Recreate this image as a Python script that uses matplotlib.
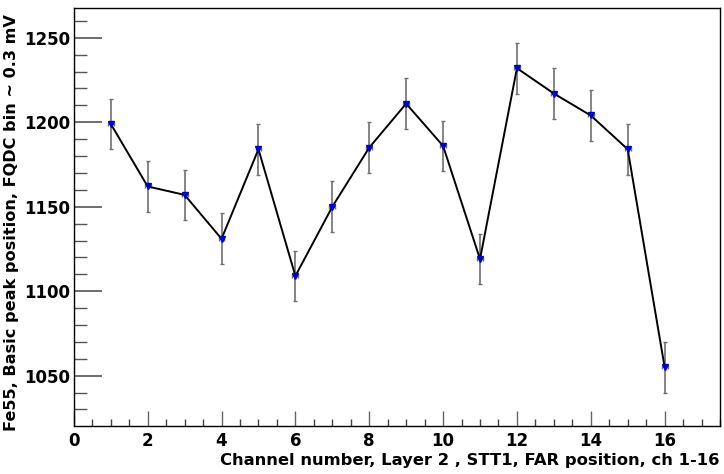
import numpy as np
import matplotlib.pyplot as plt
from matplotlib.ticker import MultipleLocator

# channel numbers and peak positions
channels = [1, 2, 3, 4, 5, 6, 7, 8, 9, 10, 11, 12, 13, 14, 15, 16]
peak_pos = [1199, 1162, 1157, 1131, 1184, 1109, 1150, 1185, 1211, 1186,
            1119, 1232, 1217, 1204, 1184, 1055]
peak_err = [15, 15, 15, 15, 15, 15, 15, 15, 15, 15,
            15, 15, 15, 15, 15, 15]
chan_err = [0.08] * 16

plt.rcParams['font.family'] = ['DejaVu Sans']

fig = plt.figure(figsize=(7.24, 4.74), dpi=100)
ax = fig.add_axes([0.102, 0.1013, 0.8925, 0.8817])

ax.errorbar(channels, peak_pos, yerr=peak_err, xerr=chan_err, fmt='none',
            ecolor='#707070', elinewidth=1.2, capsize=1.5, capthick=1, zorder=2)
ax.plot(channels, peak_pos, color='black', lw=1.4, zorder=3)
ax.plot(channels, peak_pos, 'v', color='#0000cc', ms=4, zorder=4)

ax.set_xlim(0, 17.5)
ax.set_ylim(1020.2, 1267.6)

ax.xaxis.set_major_locator(MultipleLocator(2))
ax.xaxis.set_minor_locator(MultipleLocator(0.5))
ax.yaxis.set_major_locator(MultipleLocator(50))
ax.yaxis.set_minor_locator(MultipleLocator(10))

ax.tick_params(axis='x', which='major', direction='in', length=11, width=1,
               color='#666666', labelsize=12, pad=4)
ax.tick_params(axis='x', which='minor', direction='in', length=5, width=1,
               color='#444444')
ax.tick_params(axis='y', which='major', direction='in', length=20, width=1.2,
               color='#555555', labelsize=12, pad=2.5)
ax.tick_params(axis='y', which='minor', direction='in', length=9, width=1,
               color='#555555')
for lab in ax.get_xticklabels() + ax.get_yticklabels():
    lab.set_fontweight('bold')

for sp in ax.spines.values():
    sp.set_color('black')
    sp.set_linewidth(1)

# axis titles placed like ROOT: right / top aligned
fig.text(720 / 724, 1 - 464.5 / 474,
         "Channel number, Layer 2 , STT1, FAR position, ch 1-16",
         fontsize=11.8, fontweight='bold', ha='right', va='baseline')
fig.text(12 / 724, 1 - 14 / 474,
         "Fe55, Basic peak position, FQDC bin ~ 0.3 mV",
         fontsize=11.6, fontweight='bold', rotation=90, ha='center', va='top')

fig.savefig("out.png", dpi=100)
